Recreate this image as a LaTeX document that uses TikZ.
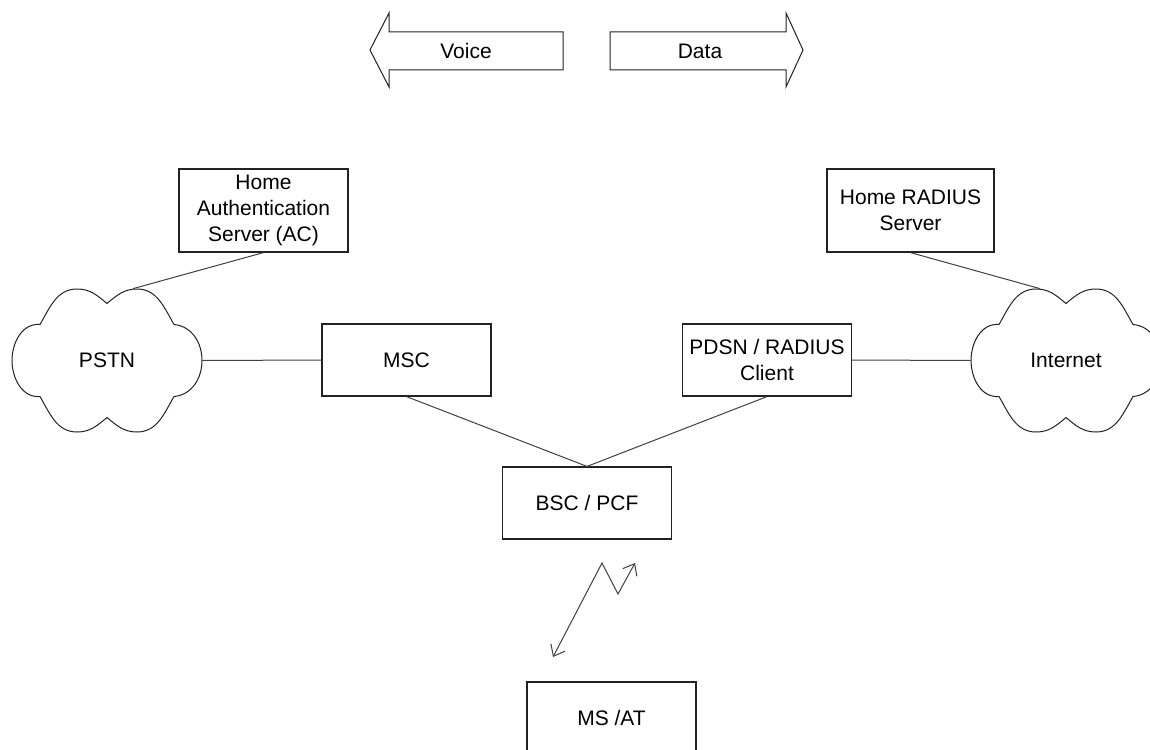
\documentclass[tikz,border=0pt]{standalone}
\usepackage{fontspec}
\setmainfont{Liberation Sans}
\usetikzlibrary{positioning, arrows.meta}
\definecolor{ink}{RGB}{34,34,34}
\definecolor{wire}{RGB}{64,64,64}
% scalloped outline round a cloud node
\newcommand\netcloud[1]{%
  \draw[cloudline, shift={(#1.center)}]
    (0,57) to[out=40, in=180] (30,71.5) to[out=0, in=120] (67,36)
    to[out=-5, in=90] (95,0) to[out=-90, in=5] (67,-36)
    to[out=-120, in=0] (30,-71.5) to[out=180, in=-40] (0,-57)
    to[out=220, in=0] (-30,-71.5) to[out=180, in=-60] (-67,-36)
    to[out=185, in=-90] (-95,0) to[out=90, in=175] (-67,36)
    to[out=60, in=180] (-30,71.5) to[out=0, in=140] (0,57) -- cycle;}

\begin{document}
\begin{tikzpicture}[
  x=0.5pt, y=0.5pt,
  box/.style={draw=ink, line width=0.6pt, fill=white, inner sep=2pt, align=center,
              font=\fontsize{10.5}{13}\selectfont, minimum width=84.5pt,
              minimum height=36pt},
  tall/.style={box, minimum height=41.5pt},
  net/.style={inner sep=0pt, minimum width=95pt, minimum height=71.5pt,
              font=\fontsize{10.5}{13}\selectfont},
  cloudline/.style={draw=ink, line width=0.5pt},
  flow/.style={draw=ink, line width=0.5pt, line join=miter},
  lab/.style={font=\fontsize{10.5}{13}\selectfont, inner sep=0pt},
  link/.style={draw=wire, line width=0.5pt},
  bolt/.style={link, {Straight Barb[length=5pt, width=8pt]}-{Straight Barb[length=5pt, width=8pt]}}]

  \useasboundingbox (0,0) rectangle (1150,-749);

  % voice / data block arrows
  \draw[flow] (370,-50) -- (389,-13) -- (389,-32) -- (563,-32) -- (563,-70)
    -- (389,-70) -- (389,-87) -- cycle;
  \draw[flow] (803,-50) -- (786,-13) -- (786,-32) -- (610,-32) -- (610,-70)
    -- (786,-70) -- (786,-87) -- cycle;
  \node[lab] (voice) at (466, -51) {Voice};
  \node[lab] (data) at (700, -51) {Data};

  \node[tall] (hauth) at (263.5, -210.5) {Home\\Authentication\\Server (AC)};
  \node[tall, minimum width=83.5pt] (hrad) at (910.5, -210.5) {Home RADIUS\\Server};

  \node[net] (pstn) at (107, -360.5) {PSTN};
  \node[box] (msc) at (406.5, -360) {MSC};
  \node[box] (pdsn) at (767, -360) {PDSN / RADIUS\\Client};
  \node[net] (inet) at (1066, -360.5) {Internet};
  \netcloud{pstn}
  \netcloud{inet}

  \node[box] (bsc) at (587, -503) {BSC / PCF};
  \node[box] (msat) at (611.5, -718) {MS /AT};

  \draw[link] (hauth.south) -- (pstn.70);
  \draw[link] (hrad.south) -- (inet.110);
  \draw[link] (pstn.east) -- (msc.west);
  \draw[link] (pdsn.east) -- (inet.west);
  \draw[link] (msc.south) -- (bsc.north);
  \draw[link] (pdsn.south) -- (bsc.north);

  % radio link
  \coordinate (rf1) at (553, -657);
  \coordinate (rf2) at (602, -563);
  \coordinate (rf3) at (618, -594);
  \coordinate (rf4) at (635, -563);
  \draw[bolt] (rf1) -- (rf2) -- (rf3) -- (rf4);
\end{tikzpicture}
\end{document}
